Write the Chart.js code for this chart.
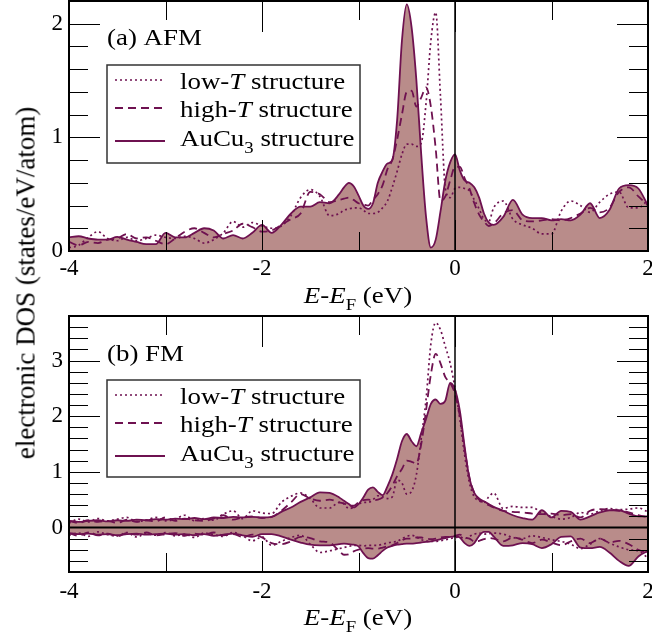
<!DOCTYPE html>
<html>
<head>
<meta charset="utf-8">
<script src="https://cdn.jsdelivr.net/npm/chart.js@4.4.0/dist/chart.umd.min.js"></script>
<style>
  body { margin: 0; background: #fff; }
  #wrap { position: relative; width: 652px; height: 634px; overflow: hidden; }
  canvas { position: absolute; left: 0; }
  #top { top: 0; }
  #bottom { top: 300px; }
  #ytitle {
    position: absolute; left: 26px; top: 283px;
    transform: translate(-50%, -50%) rotate(-90deg);
    font: 27px "Liberation Serif"; line-height: 27px; white-space: nowrap; color: #000;
  }
</style>
</head>
<body>
<div id="wrap">
  <canvas id="bottom" width="652" height="334"></canvas>
  <canvas id="top" width="652" height="312"></canvas>
  <div id="ytitle">electronic DOS (states/eV/atom)</div>
</div>
<script>
// energy grid (eV, relative to E_F)
const energy = [-4.0,-3.9,-3.8,-3.7,-3.6,-3.5,-3.4,-3.3,-3.2,-3.1,-3.0,-2.9,-2.8,-2.7,-2.6,-2.5,-2.4,-2.3,-2.2,-2.1,-2.0,-1.9,-1.8,-1.7,-1.6,-1.5,-1.4,-1.3,-1.2,
  -1.15,-1.1,-1.05,-1.0,-0.95,-0.9,-0.85,-0.8,-0.75,-0.7,-0.65,-0.6,-0.55,-0.5,-0.45,-0.4,-0.35,-0.3,-0.25,-0.2,-0.15,-0.1,-0.05,0,0.05,0.1,0.15,0.2,0.25,0.3,0.35,0.4,
  0.5,0.6,0.7,0.8,0.9,1.0,1.1,1.2,1.3,1.4,1.5,1.6,1.7,1.8,1.9,2.0];

// (a) AFM
const afmLowT = [0.03,0.05,0.12,0.17,0.11,0.09,0.12,0.09,0.11,0.14,0.12,0.11,0.13,0.11,0.07,0.10,0.16,0.26,0.21,0.25,0.22,0.20,0.22,0.31,0.47,0.54,0.48,0.31,0.33,
  0.36,0.37,0.38,0.38,0.36,0.33,0.33,0.34,0.38,0.44,0.56,0.70,0.85,0.94,0.94,0.92,0.95,1.30,1.85,2.10,1.35,0.55,0.47,0.55,0.56,0.55,0.53,0.45,0.37,0.28,0.26,0.38,
  0.44,0.28,0.23,0.20,0.15,0.15,0.35,0.44,0.40,0.34,0.43,0.50,0.52,0.38,0.38,0.45];
const afmHighT = [0.08,0.05,0.08,0.07,0.10,0.11,0.15,0.11,0.12,0.09,0.06,0.11,0.17,0.20,0.16,0.12,0.15,0.18,0.24,0.21,0.17,0.18,0.23,0.28,0.33,0.52,0.50,0.43,0.45,
  0.46,0.47,0.45,0.42,0.41,0.40,0.45,0.50,0.58,0.72,0.80,0.98,1.20,1.40,1.41,1.27,1.35,1.44,1.27,0.90,0.44,0.48,0.62,0.74,0.74,0.64,0.55,0.42,0.32,0.26,0.22,0.24,
  0.33,0.36,0.27,0.26,0.27,0.28,0.27,0.29,0.33,0.38,0.34,0.38,0.52,0.56,0.48,0.40];
const afmAuCu3 = [0.12,0.13,0.11,0.10,0.10,0.125,0.10,0.08,0.06,0.06,0.16,0.12,0.12,0.16,0.20,0.18,0.11,0.14,0.11,0.16,0.23,0.16,0.23,0.33,0.39,0.39,0.43,0.42,0.50,
  0.56,0.60,0.57,0.49,0.40,0.37,0.42,0.60,0.70,0.77,0.80,1.15,1.85,2.17,1.97,1.50,0.85,0.30,0.03,0.10,0.35,0.62,0.78,0.85,0.71,0.62,0.60,0.56,0.47,0.33,0.25,0.23,
  0.30,0.45,0.32,0.29,0.29,0.27,0.28,0.27,0.32,0.42,0.29,0.36,0.55,0.58,0.55,0.40];

// (b) FM, spin up
const fmUpLowT = [0.08,0.15,0.10,0.16,0.12,0.15,0.18,0.11,0.13,0.18,0.12,0.15,0.22,0.12,0.16,0.13,0.24,0.30,0.16,0.30,0.26,0.25,0.45,0.56,0.62,0.52,0.35,0.35,0.45,
  0.42,0.34,0.36,0.42,0.45,0.45,0.50,0.57,0.55,0.52,0.55,0.85,0.80,0.60,0.65,0.95,1.60,2.30,3.30,3.68,3.55,3.25,2.95,2.50,1.95,1.30,0.80,0.55,0.48,0.45,0.55,0.62,
  0.34,0.38,0.36,0.36,0.26,0.20,0.15,0.18,0.27,0.24,0.30,0.34,0.32,0.33,0.35,0.28];
const fmUpHighT = [0.12,0.08,0.13,0.10,0.12,0.08,0.14,0.10,0.13,0.11,0.18,0.12,0.16,0.13,0.12,0.16,0.22,0.14,0.18,0.20,0.17,0.19,0.30,0.45,0.60,0.52,0.48,0.50,0.45,
  0.43,0.40,0.39,0.45,0.49,0.50,0.49,0.50,0.54,0.62,0.75,0.92,1.05,1.20,1.18,1.15,1.50,2.10,2.75,3.12,2.95,2.70,2.60,2.40,2.00,1.40,0.90,0.62,0.50,0.44,0.40,0.36,
  0.30,0.28,0.27,0.25,0.24,0.25,0.22,0.24,0.18,0.30,0.33,0.32,0.30,0.27,0.22,0.18];
const fmUpAuCu3 = [0.12,0.10,0.12,0.13,0.11,0.13,0.12,0.14,0.13,0.15,0.14,0.16,0.15,0.17,0.15,0.18,0.17,0.19,0.18,0.19,0.18,0.19,0.28,0.36,0.46,0.54,0.63,0.62,0.54,
  0.48,0.42,0.36,0.42,0.54,0.68,0.72,0.64,0.58,0.74,0.95,1.23,1.55,1.68,1.55,1.46,1.70,1.95,2.22,2.30,2.22,2.28,2.60,2.48,2.10,1.45,0.88,0.62,0.52,0.47,0.42,0.37,
  0.30,0.22,0.17,0.14,0.31,0.18,0.30,0.28,0.14,0.20,0.27,0.31,0.31,0.25,0.20,0.20];

// (b) FM, spin down
const fmDnLowT = [-0.14,-0.10,-0.16,-0.08,-0.13,-0.15,-0.09,-0.17,-0.11,-0.14,-0.09,-0.15,-0.12,-0.18,-0.10,-0.13,-0.16,-0.09,-0.15,-0.24,-0.17,-0.32,-0.25,-0.18,-0.14,-0.30,-0.45,-0.42,-0.38,
  -0.36,-0.34,-0.32,-0.32,-0.33,-0.32,-0.32,-0.32,-0.30,-0.28,-0.26,-0.25,-0.20,-0.16,-0.14,-0.17,-0.22,-0.24,-0.25,-0.25,-0.24,-0.22,-0.20,-0.18,-0.17,-0.20,-0.16,-0.12,-0.10,-0.12,-0.11,-0.10,
  -0.12,-0.18,-0.20,-0.15,-0.18,-0.22,-0.25,-0.30,-0.38,-0.30,-0.20,-0.28,-0.35,-0.40,-0.42,-0.55];
const fmDnHighT = [-0.10,-0.15,-0.09,-0.14,-0.11,-0.16,-0.10,-0.13,-0.09,-0.14,-0.12,-0.10,-0.15,-0.11,-0.13,-0.09,-0.14,-0.12,-0.17,-0.13,-0.18,-0.28,-0.30,-0.25,-0.17,-0.19,-0.25,-0.27,-0.42,
  -0.49,-0.48,-0.43,-0.40,-0.38,-0.37,-0.38,-0.38,-0.36,-0.34,-0.32,-0.28,-0.23,-0.20,-0.20,-0.18,-0.18,-0.20,-0.21,-0.20,-0.18,-0.17,-0.17,-0.15,-0.13,-0.18,-0.20,-0.25,-0.24,-0.21,-0.19,-0.20,
  -0.25,-0.18,-0.22,-0.28,-0.22,-0.27,-0.32,-0.25,-0.20,-0.28,-0.20,-0.27,-0.24,-0.30,-0.40,-0.45];
const fmDnAuCu3 = [-0.10,-0.12,-0.11,-0.13,-0.12,-0.14,-0.12,-0.11,-0.13,-0.12,-0.11,-0.13,-0.12,-0.14,-0.12,-0.15,-0.13,-0.11,-0.14,-0.17,-0.12,-0.12,-0.16,-0.22,-0.27,-0.31,-0.32,-0.32,-0.30,
  -0.29,-0.30,-0.31,-0.34,-0.46,-0.55,-0.56,-0.50,-0.42,-0.36,-0.33,-0.31,-0.30,-0.29,-0.29,-0.28,-0.27,-0.26,-0.25,-0.23,-0.21,-0.19,-0.17,-0.16,-0.18,-0.28,-0.33,-0.28,-0.15,-0.08,-0.08,-0.16,
  -0.33,-0.32,-0.28,-0.30,-0.37,-0.30,-0.17,-0.16,-0.36,-0.37,-0.35,-0.45,-0.60,-0.69,-0.52,-0.42];

const lineColor = "#6e1150";
const fillColor = "#b98c8a";
const serif = "'Liberation Serif', serif";

const styles = {
  low: { dash: [2, 3], width: 1.7 },
  high: { dash: [8, 5], width: 1.8 },
  au: { dash: [], width: 1.8 },
};

function series(ys, kind, filled) {
  return {
    data: energy.map((e, i) => ({ x: e, y: ys[i] })),
    borderColor: lineColor,
    borderWidth: styles[kind].width,
    borderDash: styles[kind].dash,
    backgroundColor: fillColor,
    fill: filled ? "origin" : false,
    pointRadius: 0,
    cubicInterpolationMode: "monotone",
  };
}

const legendRows = [
  { kind: "low", lineDy: 15, textDy: 24, runs: [{ t: "low-" }, { t: "T", it: true }, { t: " structure" }] },
  { kind: "high", lineDy: 43, textDy: 52, runs: [{ t: "high-" }, { t: "T", it: true }, { t: " structure" }] },
  { kind: "au", lineDy: 76, textDy: 81, runs: [{ t: "AuCu" }, { t: "3", sub: true }, { t: " structure" }] },
];
const xTitle = [{ t: "E", it: true }, { t: "-" }, { t: "E", it: true }, { t: "F", sub: true }, { t: " (eV)" }];

function fontFor(r, size) {
  const s = r.sub ? Math.round(size * 0.68) : size;
  return (r.it ? "italic " : "") + s + "px " + serif;
}

function drawRich(ctx, runs, x, y, size, align) {
  const stretch = 1.17;
  let w = 0;
  runs.forEach((r) => { ctx.font = fontFor(r, size); w += ctx.measureText(r.t).width; });
  ctx.save();
  ctx.translate(x, y);
  ctx.scale(stretch, 1);
  ctx.fillStyle = "#000";
  ctx.textBaseline = "alphabetic";
  ctx.textAlign = "left";
  let cx = align === "center" ? -w / 2 : 0;
  runs.forEach((r) => {
    ctx.font = fontFor(r, size);
    ctx.fillText(r.t, cx, r.sub ? size * 0.3 : 0);
    cx += ctx.measureText(r.t).width;
  });
  ctx.restore();
}

const isInt = (v) => Math.abs(v - Math.round(v)) < 1e-6;

const frame = {
  id: "frame",
  afterDatasetsDraw(chart, args, o) {
    const ctx = chart.ctx;
    const a = chart.chartArea;
    const sx = chart.scales.x, sy = chart.scales.y;
    const seg = (x1, y1, x2, y2) => { ctx.beginPath(); ctx.moveTo(x1, y1); ctx.lineTo(x2, y2); ctx.stroke(); };
    ctx.save();
    ctx.strokeStyle = "#000";
    ctx.lineWidth = 1.5;
    const x0 = sx.getPixelForValue(0);
    seg(x0, a.top, x0, a.bottom);
    if (o.zeroLine) {
      ctx.lineWidth = 2;
      const y0 = sy.getPixelForValue(0);
      seg(a.left, y0, a.right, y0);
    }
    ctx.lineWidth = 1;
    sx.ticks.forEach((t) => {
      const p = Math.round(sx.getPixelForValue(t.value)) + 0.5;
      const len = Math.round(t.value) % 2 === 0 ? 31 : 19;
      seg(p, a.bottom, p, a.bottom - len);
      seg(p, a.top, p, a.top + len);
    });
    sy.ticks.forEach((t) => {
      const p = Math.round(sy.getPixelForValue(t.value)) + 0.5;
      const len = isInt(t.value) ? 31 : 19;
      seg(a.left, p, a.left + len, p);
      seg(a.right, p, a.right - len, p);
    });
    ctx.lineWidth = 2;
    ctx.strokeRect(a.left, a.top, a.right - a.left, a.bottom - a.top);

    // panel label
    drawRich(ctx, [{ t: o.label }], 107, o.labelY, 23, "left");

    // legend
    const L = o.legend;
    ctx.fillStyle = "#fff";
    ctx.fillRect(L.x, L.y, L.w, L.h);
    ctx.strokeStyle = "#333";
    ctx.lineWidth = 1.5;
    ctx.strokeRect(L.x, L.y, L.w, L.h);
    legendRows.forEach((row) => {
      const st = styles[row.kind];
      ctx.save();
      ctx.strokeStyle = lineColor;
      ctx.lineWidth = st.width;
      ctx.setLineDash(st.dash);
      seg(L.x + 8, L.y + row.lineDy, L.x + 58, L.y + row.lineDy);
      ctx.restore();
      drawRich(ctx, row.runs, L.x + 73, L.y + row.textDy, 23, "left");
    });

    // x axis title
    drawRich(ctx, xTitle, 358, o.titleY, 23, "center");
    ctx.restore();
  },
};

function makeChart(id, cfg) {
  return new Chart(document.getElementById(id), {
    type: "line",
    data: { datasets: cfg.datasets },
    options: {
      responsive: false,
      animation: false,
      devicePixelRatio: 1,
      layout: { padding: { top: cfg.padTop, right: 4, left: 0, bottom: 0 } },
      plugins: { legend: { display: false }, tooltip: { enabled: false }, frame: cfg.frame },
      scales: {
        x: {
          type: "linear",
          min: -4,
          max: 2,
          grid: { display: false, drawTicks: false },
          border: { display: false },
          ticks: {
            stepSize: 1, autoSkip: false, maxRotation: 0, padding: cfg.xPad, color: "#000",
            font: { family: serif, size: 23 },
            callback: (v) => (Math.round(v) % 2 === 0 ? String(Math.round(v)) : ""),
          },
          afterFit: (s) => { s.height = cfg.xHeight; s.paddingLeft = 0; s.paddingRight = 0; },
        },
        y: {
          min: cfg.yMin,
          max: cfg.yMax,
          grid: { display: false, drawTicks: false },
          border: { display: false },
          ticks: {
            stepSize: 0.2, autoSkip: false, padding: 6, color: "#000",
            font: { family: serif, size: 23 },
            callback: (v) => (isInt(v) ? String(Math.round(v)) : ""),
          },
          afterFit: (s) => { s.width = 69; s.paddingTop = 0; s.paddingBottom = 0; },
        },
      },
    },
    plugins: [frame],
  });
}

function drawAll() {
  makeChart("top", {
    datasets: [series(afmLowT, "low"), series(afmHighT, "high"), series(afmAuCu3, "au", true)],
    padTop: 1, xHeight: 61, xPad: 4, yMin: 0, yMax: 2.2,
    frame: { label: "(a) AFM", labelY: 45, titleY: 303, zeroLine: false, legend: { x: 107, y: 65, w: 253, h: 98 } },
  });
  makeChart("bottom", {
    datasets: [
      series(fmUpLowT, "low"), series(fmUpHighT, "high"), series(fmUpAuCu3, "au", true),
      series(fmDnLowT, "low"), series(fmDnHighT, "high"), series(fmDnAuCu3, "au", true),
    ],
    padTop: 16, xHeight: 62, xPad: 6, yMin: -0.8, yMax: 3.8,
    frame: { label: "(b) FM", labelY: 61, titleY: 325, zeroLine: true, legend: { x: 107, y: 80, w: 253, h: 97 } },
  });
}

Promise.all([
  document.fonts.load("23px 'Liberation Serif'"),
  document.fonts.load("italic 23px 'Liberation Serif'"),
]).then(drawAll, drawAll);
</script>
</body>
</html>
